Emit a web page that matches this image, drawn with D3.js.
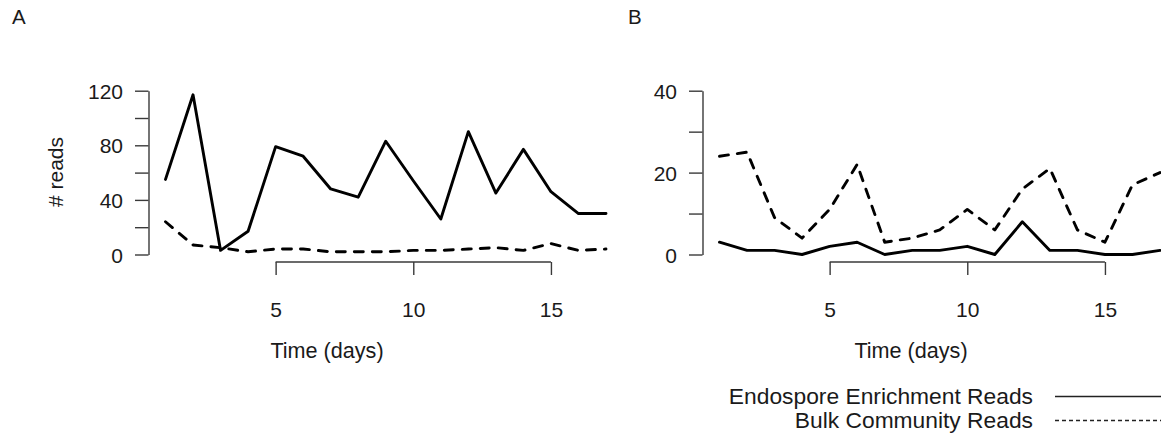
<!DOCTYPE html>
<html>
<head>
<meta charset="utf-8">
<title>Reads over time</title>
<style>
  body { margin: 0; background: #fff; }
  svg { display: block; font-family: "Liberation Sans", Arial, Helvetica, sans-serif; }
  .axis path, .axis line { stroke: #3a3a3a; stroke-width: 1.4; }
  .axis text { fill: #1a1a1a; font-size: 21px; }
  .series { fill: none; stroke: #000; stroke-width: 2.9; stroke-linejoin: round; stroke-linecap: round; }
</style>
</head>
<body>
<svg width="1161" height="436"></svg>
<script src="https://cdnjs.cloudflare.com/ajax/libs/d3/7.8.5/d3.min.js"></script>
<script>
// data
var days  = [1, 2, 3, 4, 5, 6, 7, 8, 9, 10, 11, 12, 13, 14, 15, 16, 17];
var endoA = [55, 117, 3, 17, 79, 72, 48, 42, 83, 54, 26, 90, 45, 77, 46, 30, 30];
var bulkA = [24, 7, 5, 2, 4, 4, 2, 2, 2, 3, 3, 4, 5, 3, 8, 3, 4];
var endoB = [3, 1, 1, 0, 2, 3, 0, 1, 1, 2, 0, 8, 1, 1, 0, 0, 1];
var bulkB = [24, 25, 9, 4, 11, 22, 3, 4, 6, 11, 6, 16, 21, 6, 3, 17, 20];
var xTicks = [5, 10, 15];
var yTicksA = [0, 20, 40, 60, 80, 100, 120];
var yTicksB = [0, 10, 20, 30, 40];
var legendLabels = ["Endospore Enrichment Reads", "Bulk Community Reads"];

var svg = d3.select("svg");

function panel(o) {
    var x = d3.scaleLinear().domain([1, 17]).range([o.left + 17, o.left + 457.5]);
    var y = d3.scaleLinear().domain([0, o.ymax]).range([254.5, 90.7]);
    var g = svg.append("g");

    // y axis
    var ya = g.append("g")
        .attr("class", "axis")
        .attr("transform", "translate(" + o.left + ",0)")
        .call(d3.axisLeft(y)
            .tickValues(o.yTicks)
            .tickSize(13.5)
            .tickSizeOuter(0)
            .tickPadding(12)
            .tickFormat(function(d) { return d % o.labelStep == 0 ? d : ""; }));
    ya.selectAll("text").attr("dy", "0.36em");

    // x axis, line only spans the labelled ticks
    var xa = g.append("g")
        .attr("class", "axis")
        .attr("transform", "translate(0,262)")
        .call(d3.axisBottom(x).tickValues(xTicks).tickSize(13).tickSizeOuter(0));
    xa.select(".domain").remove();
    xa.append("line")
        .attr("x1", x(xTicks[0])).attr("x2", x(xTicks[xTicks.length - 1]))
        .attr("y1", 0).attr("y2", 0);
    xa.selectAll("text").attr("y", 55).attr("dy", 0);

    var line = d3.line()
        .x(function(d, i) { return x(days[i]); })
        .y(function(d) { return y(d); });

    g.append("path").datum(o.endo).attr("class", "series").attr("d", line);
    g.append("path").datum(o.bulk).attr("class", "series")
        .attr("stroke-dasharray", "9,9").attr("d", line);

    g.append("text")
        .attr("x", o.xlabX).attr("y", 358)
        .attr("text-anchor", "middle")
        .attr("font-size", 21.6).attr("fill", "#1a1a1a")
        .text("Time (days)");

    g.append("text")
        .attr("x", o.letterX).attr("y", 24)
        .attr("font-size", 20.5).attr("fill", "#1a1a1a")
        .text(o.letter);
}

panel({ left: 148.5, ymax: 120, yTicks: yTicksA, labelStep: 40, endo: endoA, bulk: bulkA,
        xlabX: 327, letter: "A", letterX: 12 });
panel({ left: 702.5, ymax: 40, yTicks: yTicksB, labelStep: 20, endo: endoB, bulk: bulkB,
        xlabX: 911, letter: "B", letterX: 628 });

// y label (panel A only)
svg.append("text")
    .attr("transform", "translate(63,172) rotate(-90)")
    .attr("text-anchor", "middle")
    .attr("font-size", 21).attr("fill", "#1a1a1a")
    .text("# reads");

// legend
var leg = svg.append("g");
var legY = [396.5, 420.5];
leg.selectAll("text.lab")
    .data(legendLabels)
    .enter().append("text")
        .attr("class", "lab")
        .attr("x", 1033)
        .attr("y", function(d, i) { return legY[i] + 7; })
        .attr("text-anchor", "end")
        .attr("font-size", 22.8).attr("fill", "#1a1a1a")
        .text(function(d) { return d; });
leg.selectAll("line")
    .data(legendLabels)
    .enter().append("line")
        .attr("x1", 1055).attr("x2", 1175)
        .attr("y1", function(d, i) { return legY[i]; })
        .attr("y2", function(d, i) { return legY[i]; })
        .attr("stroke", "#222").attr("stroke-width", 1.3)
        .attr("stroke-dasharray", function(d, i) { return i ? "4,3" : null; });
</script>
</body>
</html>
